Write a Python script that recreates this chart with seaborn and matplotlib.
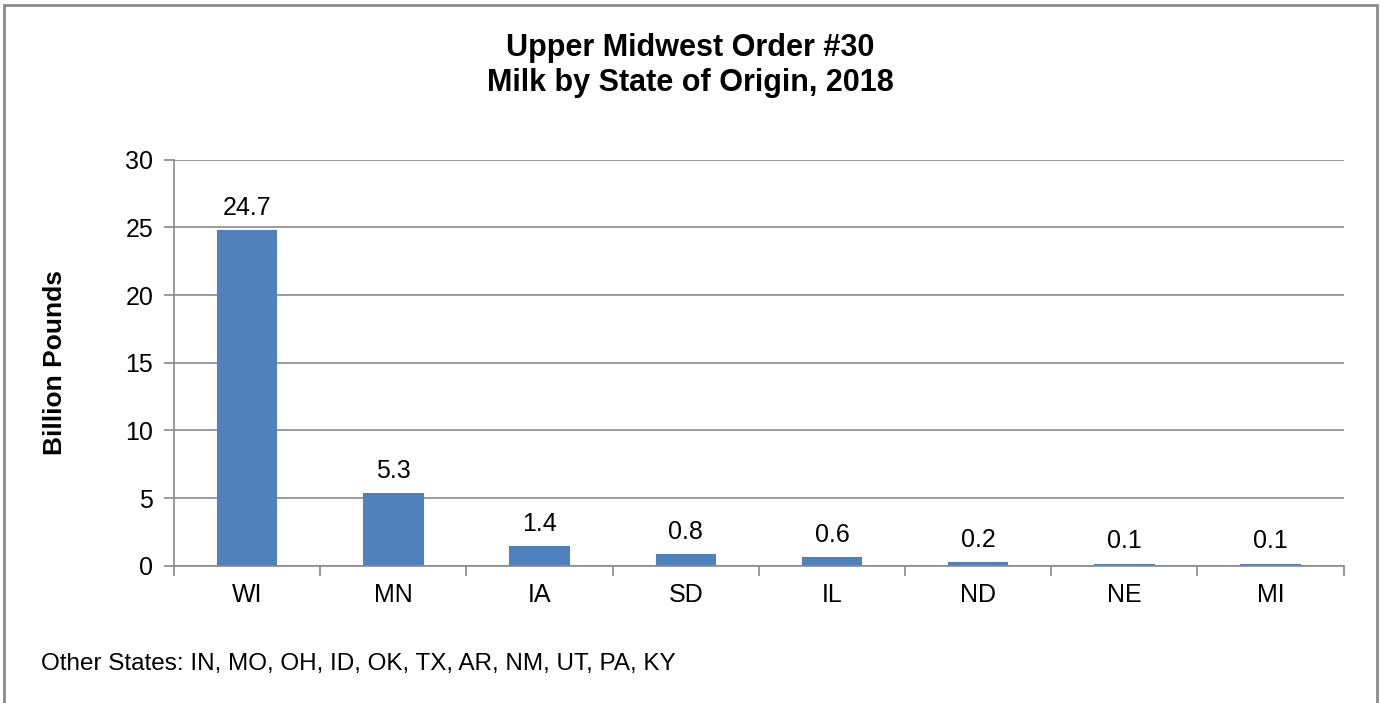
import matplotlib
matplotlib.use("Agg")
import matplotlib.pyplot as plt
import seaborn as sns
import pandas as pd
from matplotlib.patches import Rectangle

# ---------------- DATA ----------------
states = ["WI", "MN", "IA", "SD", "IL", "ND", "NE", "MI"]
billion_pounds = [24.7, 5.3, 1.4, 0.8, 0.6, 0.2, 0.1, 0.1]
y_ticks = [0, 5, 10, 15, 20, 25, 30]

title = "Upper Midwest Order #30\nMilk by State of Origin, 2018"
y_label = "Billion Pounds"
footnote = "Other States: IN, MO, OH, ID, OK, TX, AR, NM, UT, PA, KY"

df = pd.DataFrame({"state": states, "value": billion_pounds})

# ---------------- STYLE ----------------
sns.set_style("white")
plt.rcParams["font.family"] = ["Liberation Sans", "DejaVu Sans"]
plt.rcParams["text.color"] = "black"
plt.rcParams["xtick.color"] = "black"
plt.rcParams["ytick.color"] = "black"
plt.rcParams["axes.labelcolor"] = "black"

GRAY = "#8a8a8a"
BLUE = "#4F81BD"

fig = plt.figure(figsize=(13.81, 7.03), dpi=100)
ax = fig.add_axes([0.126, 0.195, 0.847, 0.578])

sns.barplot(data=df, x="state", y="value", color=BLUE, width=0.4,
            saturation=1, edgecolor=BLUE, linewidth=1.5, ax=ax)

# value labels
for i, v in enumerate(billion_pounds):
    ax.annotate(f"{v}", (i, v), xytext=(0, 8), textcoords="offset points",
                ha="center", va="bottom", fontsize=18)

ax.set_ylim(0, 30)
ax.set_yticks(y_ticks)
ax.set_xlim(-0.5, len(states) - 0.5)
ax.yaxis.grid(True, color=GRAY, linewidth=1.2)
ax.set_axisbelow(True)

for side in ["top", "right"]:
    ax.spines[side].set_visible(False)
for side in ["left", "bottom"]:
    ax.spines[side].set_color(GRAY)
    ax.spines[side].set_linewidth(1.2)

ax.tick_params(axis="y", length=7, width=1.2, color=GRAY, labelsize=18,
               direction="out", left=True, pad=8)
# x ticks sit between categories
ax.set_xticks(range(len(states)))
ax.set_xticklabels(states, fontsize=18)
ax.tick_params(axis="x", length=0, pad=12)
ax.set_xticks([i - 0.5 for i in range(len(states) + 1)], minor=True)
ax.tick_params(axis="x", which="minor", length=7, width=1.2, color=GRAY,
               direction="out", bottom=True)

ax.set_xlabel("")
ax.set_ylabel(y_label, fontsize=19, fontweight="bold", labelpad=42)

fig.text(0.5, 0.907, title, ha="center", va="center", fontsize=22,
         fontweight="bold")
fig.text(0.030, 0.055, footnote, ha="left", va="center", fontsize=17.5)

# outer chart frame
fig.patches.append(Rectangle((4 / 1381, -0.05), 1373 / 1381, 1.05 - 5 / 703,
                             transform=fig.transFigure, fill=False,
                             edgecolor=GRAY, linewidth=2))

fig.savefig("out.png", dpi=100)
